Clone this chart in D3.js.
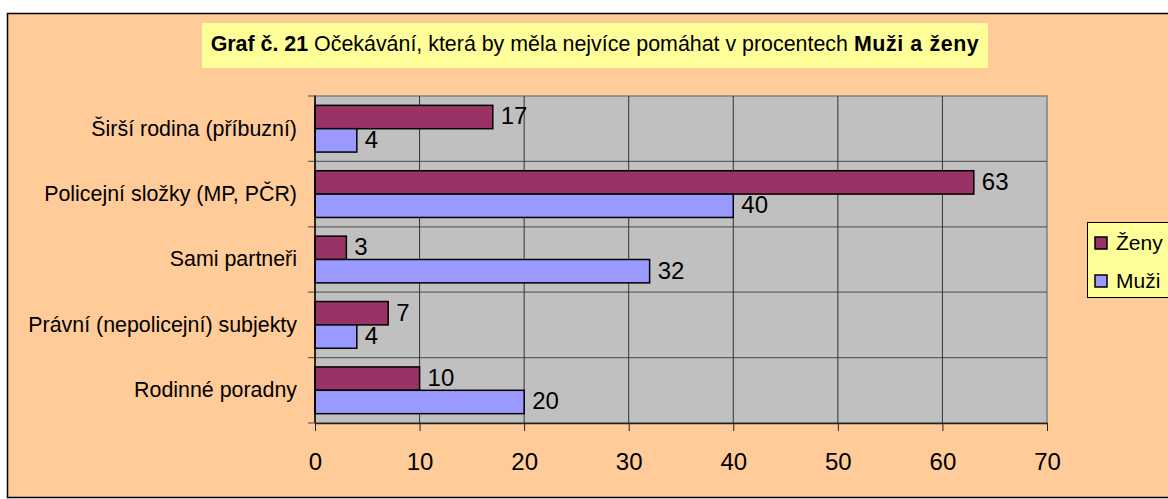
<!DOCTYPE html>
<html>
<head>
<meta charset="utf-8">
<script src="https://cdn.jsdelivr.net/npm/d3@7"></script>
<style>
  body { margin: 0; background: #fff; }
  svg { display: block; font-family: Arial, "Liberation Sans", sans-serif; }
</style>
</head>
<body>
<svg id="chart" width="1168" height="499"></svg>
<script>
// ─── Data ────────────────────────────────────────────
const categories = [
  'Širší rodina (příbuzní)',
  'Policejní složky (MP, PČR)',
  'Sami partneři',
  'Právní (nepolicejní) subjekty',
  'Rodinné poradny'
];
const series = ['Ženy', 'Muži'];
const zenyValues = [17, 63, 3, 7, 10];
const muziValues = [4, 40, 32, 4, 20];
const xTicks = [0, 10, 20, 30, 40, 50, 60, 70];

const colors = { 'Ženy': '#993366', 'Muži': '#9999FF' };
const valuesBySeries = { 'Ženy': zenyValues, 'Muži': muziValues };
const FONT = 'Arial, "Liberation Sans", sans-serif';

const svg = d3.select('#chart');

// Chart background + outer border
svg.append('rect')
  .attr('x', 7.5).attr('y', 13.5)
  .attr('width', 1170).attr('height', 484)
  .attr('fill', '#FFCC99')
  .attr('stroke', '#000').attr('stroke-width', 1.5);

// Title box
svg.append('rect')
  .attr('x', 202).attr('y', 23)
  .attr('width', 786).attr('height', 45)
  .attr('fill', '#FFFF99');

const title = svg.append('text')
  .attr('x', 595).attr('y', 51)
  .attr('text-anchor', 'middle')
  .attr('font-size', 21.4)
  .attr('fill', '#000');
title.append('tspan').attr('font-weight', 'bold').text('Graf č. 21');
title.append('tspan').text(' Očekávání, která by měla nejvíce pomáhat v procentech ');
title.append('tspan').attr('font-weight', 'bold').attr('letter-spacing', 0.6).text('Muži a ženy');

// ─── Scales ──────────────────────────────────────────
const plot = { left: 315, right: 1047, top: 96, bottom: 423 };

const x = d3.scaleLinear()
  .domain([0, 70])
  .range([plot.left, plot.right]);

const y = d3.scaleBand()
  .domain(categories)
  .range([plot.top, plot.bottom])
  .paddingInner(0)
  .paddingOuter(0);

const inner = d3.scaleBand()
  .domain(series)
  .range([0, y.bandwidth()])
  .paddingInner(0)
  .paddingOuter(0.4);

// Plot area
svg.append('rect')
  .attr('x', plot.left).attr('y', plot.top)
  .attr('width', plot.right - plot.left).attr('height', plot.bottom - plot.top)
  .attr('fill', '#C0C0C0')
  .attr('stroke', '#808080').attr('stroke-width', 1.5);

// Category separators
svg.append('g')
  .selectAll('line')
  .data(categories.slice(1))
  .join('line')
  .attr('x1', plot.left - 7).attr('x2', plot.right)
  .attr('y1', d => y(d)).attr('y2', d => y(d))
  .attr('stroke', '#606060').attr('stroke-width', 1.2);

// Vertical gridlines
svg.append('g')
  .selectAll('line')
  .data(xTicks.slice(1, -1))
  .join('line')
  .attr('x1', d => x(d)).attr('x2', d => x(d))
  .attr('y1', plot.top).attr('y2', plot.bottom)
  .attr('stroke', '#333').attr('stroke-width', 1);

// Bars
const groups = svg.append('g')
  .selectAll('g')
  .data(categories)
  .join('g')
  .attr('transform', d => `translate(0,${y(d)})`);

groups.selectAll('rect')
  .data((d, i) => series.map(s => ({ s, v: valuesBySeries[s][i] })))
  .join('rect')
  .attr('x', x(0))
  .attr('y', d => inner(d.s))
  .attr('width', d => x(d.v) - x(0))
  .attr('height', inner.bandwidth())
  .attr('fill', d => colors[d.s])
  .attr('stroke', '#000').attr('stroke-width', 1.5);

groups.selectAll('text')
  .data((d, i) => series.map(s => ({ s, v: valuesBySeries[s][i] })))
  .join('text')
  .attr('x', d => x(d.v) + 8)
  .attr('y', d => inner(d.s) + inner.bandwidth() / 2 - 1)
  .attr('dy', '0.35em')
  .attr('font-size', 24)
  .text(d => d.v);

// Y axis (category)
const yAxis = svg.append('g')
  .attr('transform', `translate(${plot.left},0)`)
  .call(d3.axisLeft(y).tickSize(0).tickPadding(18));
yAxis.select('.domain').attr('stroke', '#000').attr('stroke-width', 1.5)
  .attr('d', `M0,${plot.top - 0.5}V${plot.bottom}`);
yAxis.selectAll('text').attr('font-size', 21.4).attr('font-family', FONT);
svg.append('g').selectAll('line')
  .data([plot.top, plot.bottom])
  .join('line')
  .attr('x1', plot.left - 7).attr('x2', plot.left)
  .attr('y1', d => d).attr('y2', d => d)
  .attr('stroke', '#606060').attr('stroke-width', 1.2);

// X axis
const xAxis = svg.append('g')
  .attr('transform', `translate(0,${plot.bottom})`)
  .call(d3.axisBottom(x).tickValues(xTicks).tickSize(8).tickPadding(22).tickSizeOuter(0));
xAxis.select('.domain').attr('stroke', '#222').attr('stroke-width', 1.5);
xAxis.selectAll('.tick line').attr('stroke', '#222');
xAxis.selectAll('text').attr('font-size', 24).attr('font-family', FONT);

// Legend
const legend = svg.append('g').attr('transform', 'translate(1087,222)');
legend.append('rect')
  .attr('x', 0.5).attr('y', 0.5)
  .attr('width', 90).attr('height', 75)
  .attr('fill', '#FFFF99')
  .attr('stroke', '#000').attr('stroke-width', 1);
const items = legend.selectAll('g.item')
  .data(series)
  .join('g')
  .attr('class', 'item')
  .attr('transform', (d, i) => `translate(8,${21 + i * 38})`);
items.append('rect')
  .attr('x', 0).attr('y', -6)
  .attr('width', 12).attr('height', 12)
  .attr('fill', d => colors[d])
  .attr('stroke', '#000').attr('stroke-width', 1.5);
items.append('text')
  .attr('x', 21).attr('y', 0)
  .attr('dy', '0.35em')
  .attr('font-size', 21)
  .text(d => d);
</script>
</body>
</html>
